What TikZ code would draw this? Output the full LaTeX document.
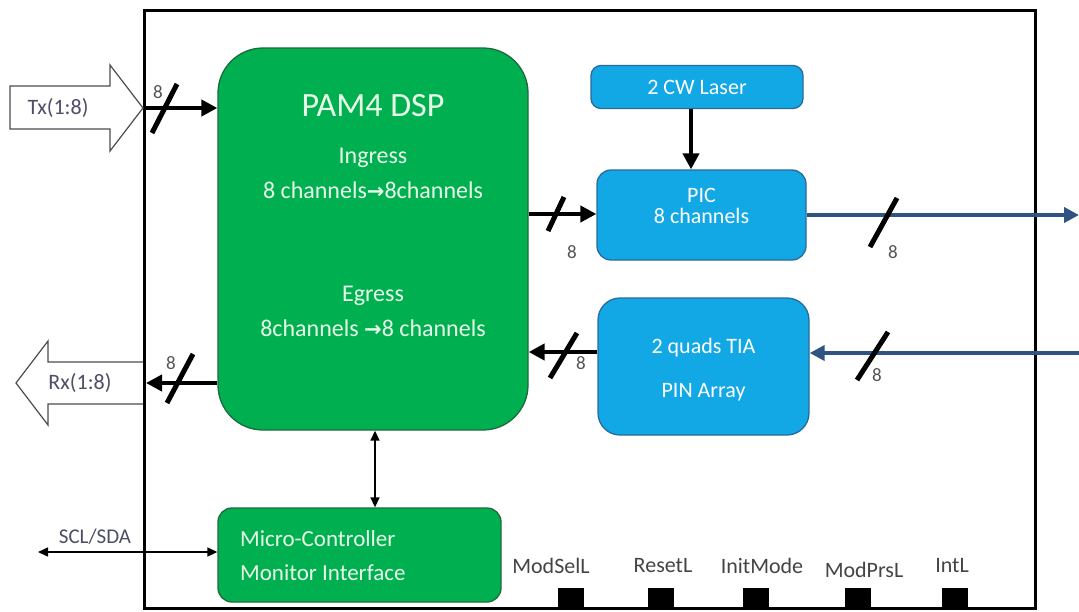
\documentclass[tikz,border=0pt]{standalone}
\usepackage{fontspec}
\setmainfont{Carlito}
\newfontfamily\symfont{DejaVu Sans}
\usetikzlibrary{arrows.meta}
\definecolor{dspgreen}{HTML}{00B050}
\definecolor{dspedge}{HTML}{1C6B3A}
\definecolor{picblue}{HTML}{12A8E6}
\definecolor{picedge}{HTML}{2A6A9C}
\definecolor{linkblue}{HTML}{2F5383}
\definecolor{txtgreen}{HTML}{E8FBE8}
\definecolor{portgray}{HTML}{4E4E66}
\definecolor{numgray}{HTML}{555555}
\tikzset{
  greenbox/.style={draw=dspedge, line width=1.3, fill=dspgreen},
  bluebox/.style={draw=picedge, line width=1.3, fill=picblue, rounded corners=14},
  gtext/.style={text=txtgreen, font=\fontsize{24}{28}\selectfont, align=center, inner sep=0},
  btext/.style={text=white, font=\fontsize{22}{25}\selectfont, align=center, inner sep=0},
  bus/.style={line width=4.5, -{Triangle[length=16pt,width=16pt]}},
  blink/.style={draw=linkblue, line width=4, -{Triangle[length=15pt,width=15pt]}},
  slashline/.style={line width=5, line cap=butt},
  num/.style={text=numgray, font=\fontsize{19}{19}\selectfont, inner sep=0},
  portlbl/.style={text=numgray!80!black, font=\fontsize{22}{25}\selectfont, inner sep=0},
  pin/.style={fill=black, minimum width=26, minimum height=21, inner sep=0},
  hollow/.style={draw=black!70, line width=1.2, fill=white},
  thin arrow/.style={line width=1.5, {Triangle[length=10pt,width=9pt]}-{Triangle[length=10pt,width=9pt]}}
}
\newcommand{\rarr}{{\symfont\bfseries\fontsize{21}{24}\selectfont →}}
\begin{document}
\begin{tikzpicture}[x=1pt, y=-1pt]
\path[use as bounding box, fill=white] (0,0) rectangle (1079,611);

% module frame
\draw[line width=3] (144,10) rectangle (1035,608);

% DSP
\node[greenbox, rounded corners=45, minimum width=310, minimum height=382, inner sep=0] (dsp) at (373,239) {};
\node[text=txtgreen, font=\fontsize{34}{38}\selectfont, inner sep=0] (dsptitle) at (373,106) {PAM4 DSP};
\node[gtext] (ingress) at (373,158) {Ingress};
\node[gtext] (ingch) at (373,190) {8 channels\rarr8channels};
\node[gtext] (egress) at (373,296) {Egress};
\node[gtext] (egch) at (373,328) {8channels \rarr8 channels};

% Laser, PIC, TIA
\node[bluebox, rounded corners=10, minimum width=212, minimum height=43, inner sep=0] (laser) at (697,87) {};
\node[btext] (lasert) at (697,87) {2 CW Laser};
\node[bluebox, minimum width=209, minimum height=90, inner sep=0] (pic) at (701.5,215) {};
\node[btext] (pict) at (701.5,206) {PIC\\[-4pt]8 channels};
\node[bluebox, rounded corners=22, minimum width=211, minimum height=137, inner sep=0] (tia) at (703.5,366.5) {};
\node[btext] (tiat1) at (703.5,348) {2 quads TIA};
\node[btext] (tiat2) at (703.5,392) {PIN Array};

% Micro-controller
\node[greenbox, rounded corners=14, minimum width=283, minimum height=94, inner sep=0] (mcu) at (359.5,555) {};
\node[gtext, font=\fontsize{23}{27}\selectfont, anchor=west, align=left] (mcut1) at (240,539) {Micro-Controller};
\node[gtext, font=\fontsize{23}{27}\selectfont, anchor=west, align=left] (mcut2) at (240,573) {Monitor Interface};

% Tx hollow arrow
\draw[hollow] (10,86) -- (110,86) -- (110,65) -- (143,108) -- (110,151) -- (110,129) -- (10,129) -- cycle;
\node[text=portgray, font=\fontsize{22}{25}\selectfont, inner sep=0] (tx) at (58,108) {Tx(1:8)};
% Rx hollow arrow
\draw[hollow] (143,362) -- (48,362) -- (48,341) -- (16,383) -- (48,425) -- (48,404) -- (143,404);
\node[text=portgray, font=\fontsize{22}{25}\selectfont, inner sep=0] (rx) at (80,383) {Rx(1:8)};
\draw[line width=3] (144,340) -- (144,430);

% Tx bus
\coordinate (txin) at (144,108);
\draw[bus] (txin) -- (txin -| dsp.west);
\draw[slashline] (152,133) -- (177,84);
\node[num] (n1) at (158,92) {8};
% Rx bus
\coordinate (rxout) at (146,383);
\draw[bus] (rxout -| dsp.west) -- (rxout);
\draw[slashline] (167,403) -- (193,354);
\node[num] (n2) at (171,363) {8};

% DSP -> PIC
\coordinate (egy) at (0,214);
\draw[bus] (dsp.east |- egy) -- (pic.west |- egy);
\draw[slashline] (548,231) -- (564,197);
\node[num] (n3) at (572,252) {8};
% TIA -> DSP
\coordinate (iny) at (0,352);
\draw[bus] (tia.west |- iny) -- (dsp.east |- iny);
\draw[slashline] (550,378) -- (577,333);
\node[num] (n4) at (581,363) {8};

% Laser -> PIC
\draw[bus] (laser.south -| 691,0) -- (pic.north -| 691,0);

% PIC -> out
\coordinate (optout) at (1079,215);
\draw[blink] (pic.east |- optout) -- (optout);
\draw[slashline] (870,247) -- (897,198);
\node[num] (n5) at (893,252) {8};
% in -> TIA
\coordinate (optin) at (1079,353);
\draw[blink] (optin) -- (tia.east |- optin);
\draw[slashline] (857,380) -- (888,332);
\node[num] (n6) at (877,375) {8};

% DSP <-> MCU
\draw[thin arrow] (dsp.south -| 375,0) -- (mcu.north -| 375,0);
% SCL/SDA
\coordinate (scl) at (38,552);
\draw[thin arrow] (scl) -- (mcu.west |- scl);
\node[text=portgray, font=\fontsize{21}{24}\selectfont, inner sep=0] (scllbl) at (95,537) {SCL/SDA};

% low-speed pins
\node[portlbl] (l1) at (551,566) {ModSelL};
\node[portlbl] (l2) at (663,566) {ResetL};
\node[portlbl] (l3) at (762,566) {InitMode};
\node[portlbl] (l4) at (864,570) {ModPrsL};
\node[portlbl] (l5) at (952,566) {IntL};
\node[pin] (p1) at (571,598) {};
\node[pin] (p2) at (661,598) {};
\node[pin] (p3) at (756,598) {};
\node[pin] (p4) at (858,598) {};
\node[pin] (p5) at (955,598) {};
\end{tikzpicture}
\end{document}
